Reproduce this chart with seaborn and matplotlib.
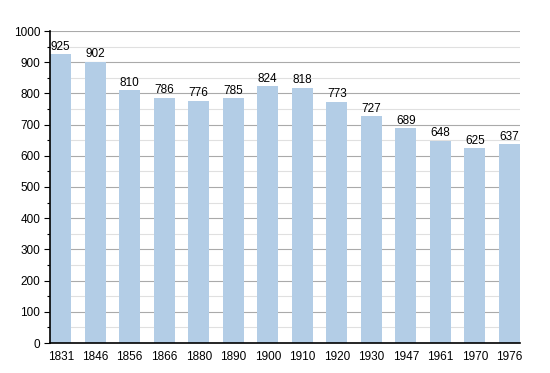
import matplotlib
matplotlib.use("Agg")
import matplotlib.pyplot as plt
import seaborn as sns
import pandas as pd
from matplotlib.ticker import MultipleLocator

years = ["1831", "1846", "1856", "1866", "1880", "1890", "1900", "1910",
         "1920", "1930", "1947", "1961", "1970", "1976"]
population = [925, 902, 810, 786, 776, 785, 824, 818, 773, 727, 689, 648, 625, 637]

df = pd.DataFrame({"year": years, "pop": population})

sns.set_style("white")
plt.rcParams["font.family"] = ["Liberation Sans", "DejaVu Sans"]
plt.rcParams["text.color"] = "black"
plt.rcParams["xtick.color"] = "black"
plt.rcParams["ytick.color"] = "black"
plt.rcParams["axes.labelcolor"] = "black"

fig = plt.figure(figsize=(5.5, 3.73), dpi=100)
ax = fig.add_axes([50/550, 1 - 343/373, 470/550, 312/373])

sns.barplot(data=df, x="year", y="pop", color="#b3cde6", saturation=1,
            width=0.61, ax=ax, zorder=2, edgecolor="none", linewidth=0)

ax.set_xlim(-0.31, 13.31)
ax.set_ylim(0, 1000)
ax.yaxis.set_major_locator(MultipleLocator(100))
ax.yaxis.set_minor_locator(MultipleLocator(50))
ax.grid(which="major", axis="y", color="#aaaaaa", linewidth=0.8, zorder=0)
ax.grid(which="minor", axis="y", color="#e0e0e0", linewidth=0.8, zorder=0)
ax.set_axisbelow(True)

for s in ["top", "right"]:
    ax.spines[s].set_visible(False)
for s in ["left", "bottom"]:
    ax.spines[s].set_color("black")
    ax.spines[s].set_linewidth(1.2)
    ax.spines[s].set_zorder(5)

ax.tick_params(axis="y", which="major", left=True, length=4, width=0.8, labelsize=8.5, pad=3)
ax.tick_params(axis="y", which="minor", left=True, length=2, width=0.8)
ax.tick_params(axis="x", bottom=False, labelsize=8.5, pad=2)
ax.set_xlabel("")
ax.set_ylabel("")

for c in ax.containers:
    ax.bar_label(c, labels=[str(v) for v in population], fontsize=8.5, padding=1, color="black")

fig.savefig("out.png", dpi=100)
